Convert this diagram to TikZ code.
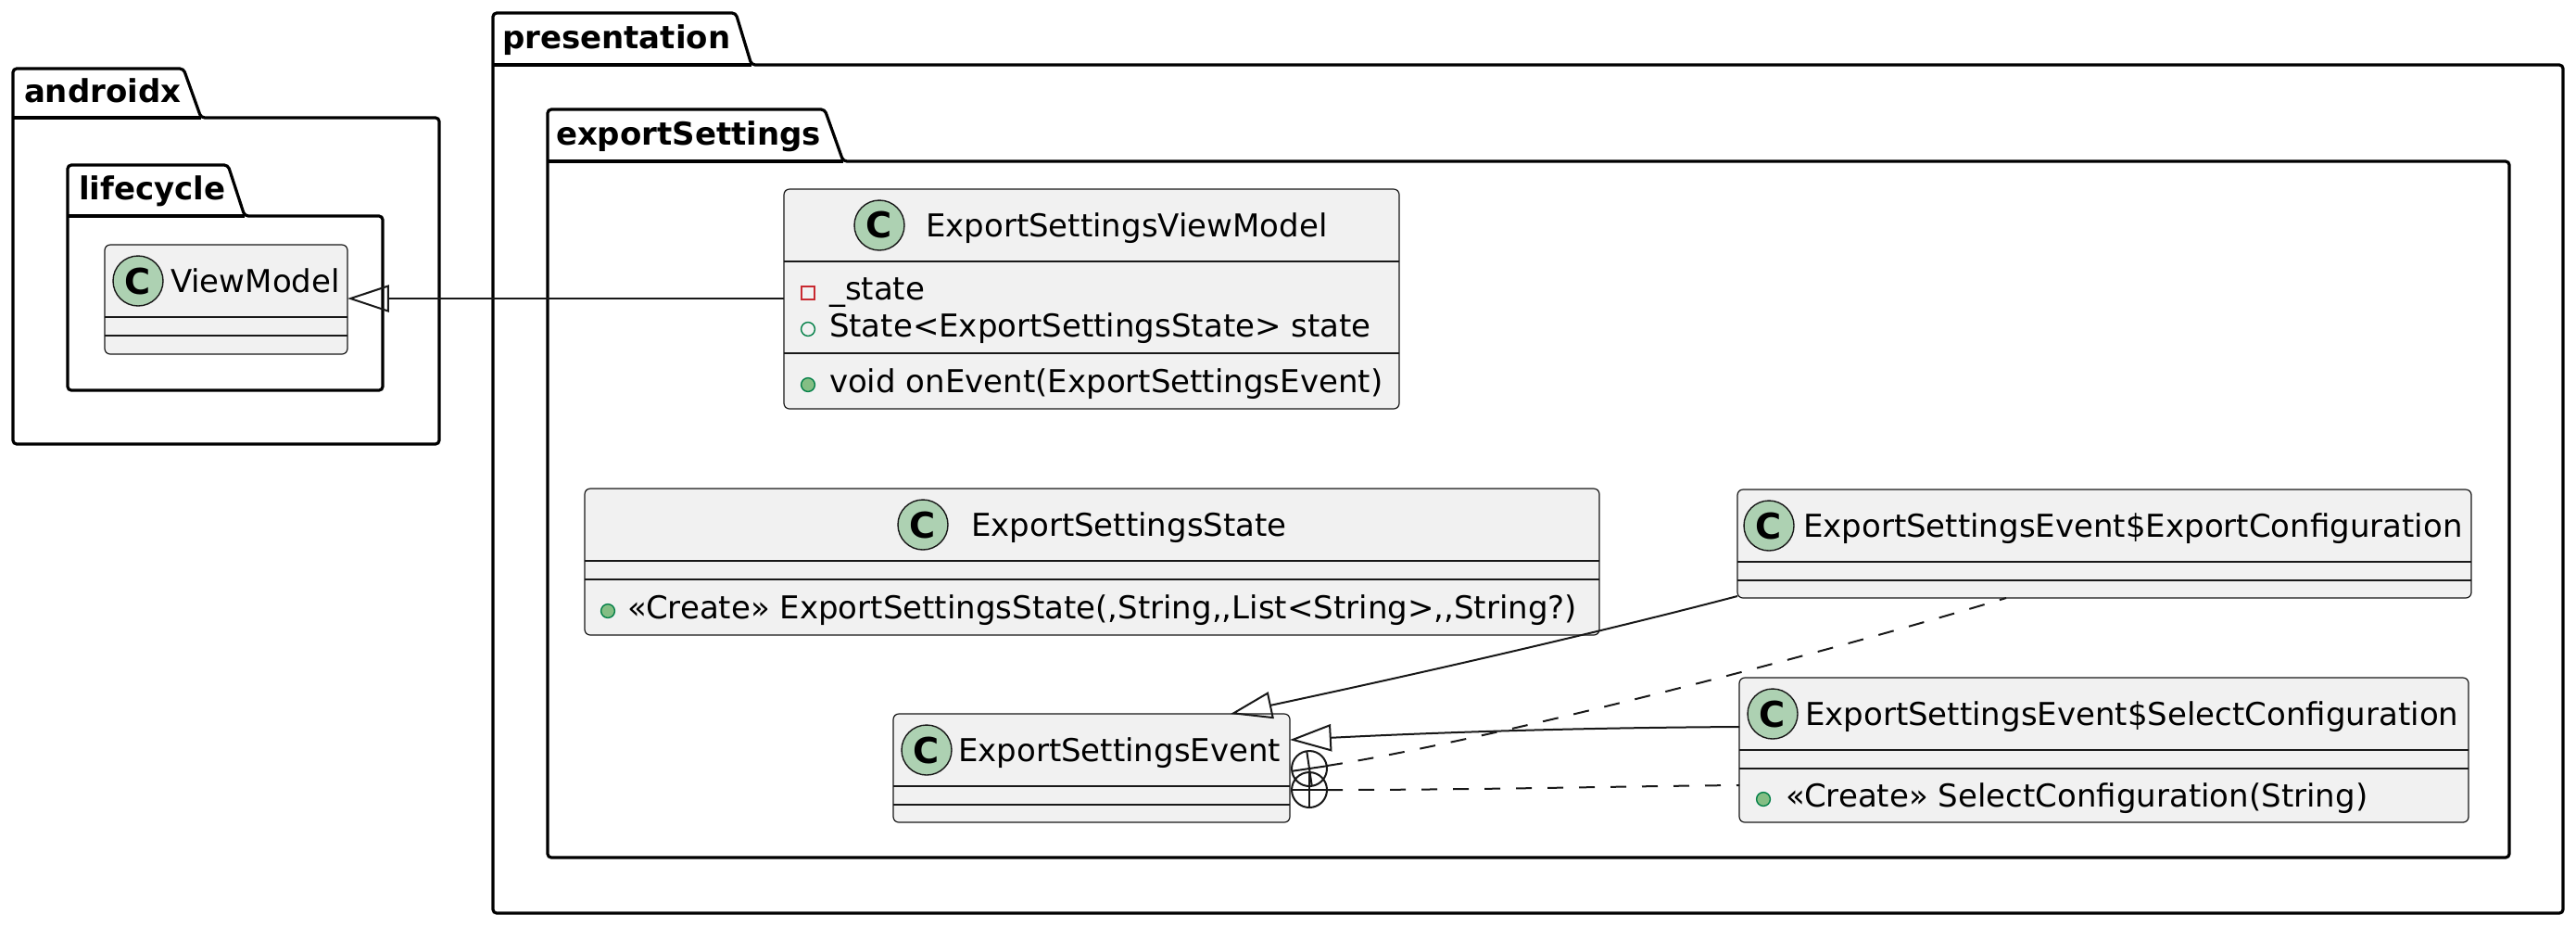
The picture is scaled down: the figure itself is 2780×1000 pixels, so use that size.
\documentclass[tikz,border=0pt]{standalone}
\usepackage{fontspec}
\setmainfont{DejaVu Sans}
\usetikzlibrary{arrows.meta,calc}
\definecolor{clsfill}{HTML}{F1F1F1}
\definecolor{ink}{HTML}{181818}
\definecolor{cfill}{HTML}{ADD1B2}
\definecolor{privred}{HTML}{C82930}
\definecolor{pubgreen}{HTML}{038048}
\definecolor{methfill}{HTML}{84BE84}
\tikzset{
  pkgline/.style={draw=black, line width=0.8pt, rounded corners=1pt},
  clsbox/.style={rectangle, draw=ink, fill=clsfill, line width=0.3pt, rounded corners=1.5pt, inner sep=0pt, outer sep=0pt},
  sepline/.style={draw=ink, line width=0.3pt},
  cicon/.style={circle, draw=ink, fill=cfill, line width=0.35pt, minimum size=13.5pt, inner sep=0pt, font=\bfseries\fontsize{9.6pt}{10pt}\selectfont},
  txt/.style={anchor=base west, inner sep=0pt, outer sep=0pt, font=\fontsize{8.5pt}{10pt}\selectfont},
  pkgtxt/.style={anchor=base west, inner sep=0pt, outer sep=0pt, font=\bfseries\fontsize{8.5pt}{10pt}\selectfont},
  conn/.style={draw=ink, line width=0.5pt},
  inh/.style={conn, -{Triangle[open, length=11.2pt, width=7.3pt]}},
  dsh/.style={conn, dash pattern=on 4.25pt off 4.25pt},
  privicon/.style={draw=privred, line width=0.35pt},
  pubicon/.style={draw=pubgreen, line width=0.35pt},
  methicon/.style={draw=pubgreen, fill=methfill, line width=0.35pt},
}
\begin{document}
\begin{tikzpicture}[x=0.25pt, y=-0.25pt]
\useasboundingbox (0,0) rectangle (2780,1000);
\fill[white] (0,0) rectangle (2780,1000);

% packages
\draw[pkgline] (14,479) -- (14,74) -- (198,74) -- (217,127) -- (474,127) -- (474,479) -- cycle;
\draw[pkgline] (14,127) -- (217,127);
\node[pkgtxt] (pandroidx) at (26,110) {androidx};

\draw[pkgline] (73,421) -- (73,178) -- (246,178) -- (264,233) -- (413,233) -- (413,421) -- cycle;
\draw[pkgline] (73,233) -- (264,233);
\node[pkgtxt] (plifecycle) at (85,215) {lifecycle};

\draw[pkgline] (532,985) -- (532,14) -- (794,14) -- (811,70) -- (2766,70) -- (2766,985) -- cycle;
\draw[pkgline] (532,70) -- (811,70);
\node[pkgtxt] (ppresentation) at (542,52) {presentation};

\draw[pkgline] (591,925) -- (591,118) -- (890,118) -- (910,174) -- (2708,174) -- (2708,925) -- cycle;
\draw[pkgline] (591,174) -- (910,174);
\node[pkgtxt] (pexport) at (600,156) {exportSettings};

% class boxes
\node[clsbox, minimum width=65.5pt, minimum height=29.5pt] (vm) at (244,323) {};
\node[clsbox, minimum width=166pt, minimum height=59.25pt] (evm) at (1178,322.5) {};
\node[clsbox, minimum width=273.75pt, minimum height=39.5pt] (st) at (1178.5,606) {};
\node[clsbox, minimum width=107pt, minimum height=29.25pt] (ev) at (1178,828.5) {};
\node[clsbox, minimum width=198pt, minimum height=29.25pt] (ec) at (2271,586.5) {};
\node[clsbox, minimum width=196.75pt, minimum height=39pt] (sc) at (2270.5,809) {};

% separators
\draw[sepline] (vm.west |- 0,342) -- (vm.east |- 0,342);
\draw[sepline] (vm.west |- 0,362) -- (vm.east |- 0,362);
\draw[sepline] (evm.west |- 0,282) -- (evm.east |- 0,282);
\draw[sepline] (evm.west |- 0,381) -- (evm.east |- 0,381);
\draw[sepline] (st.west |- 0,605) -- (st.east |- 0,605);
\draw[sepline] (st.west |- 0,625) -- (st.east |- 0,625);
\draw[sepline] (ev.west |- 0,848) -- (ev.east |- 0,848);
\draw[sepline] (ev.west |- 0,868) -- (ev.east |- 0,868);
\draw[sepline] (ec.west |- 0,606) -- (ec.east |- 0,606);
\draw[sepline] (ec.west |- 0,626) -- (ec.east |- 0,626);
\draw[sepline] (sc.west |- 0,809) -- (sc.east |- 0,809);
\draw[sepline] (sc.west |- 0,829) -- (sc.east |- 0,829);

% titles
\node[cicon] (vmc) at (149,303) {C};
\node[txt] (vmt) at (184,315) {ViewModel};
\node[cicon] (evmc) at (949,243) {C};
\node[txt] (evmt) at (999,255) {ExportSettingsViewModel};
\node[cicon] (stc) at (996,566) {C};
\node[txt] (stt) at (1048,578) {ExportSettingsState};
\node[cicon] (evc) at (1000,809) {C};
\node[txt] (evt) at (1034,821) {ExportSettingsEvent};
\node[cicon] (ecc) at (1909,567) {C};
\node[txt] (ect) at (1946,579) {ExportSettingsEvent\$ExportConfiguration};
\node[cicon] (scc) at (1913,770) {C};
\node[txt] (sct) at (1948,782) {ExportSettingsEvent\$SelectConfiguration};

% members
\draw[privicon] (865,309) rectangle (879,323);
\node[txt] (evm1) at (895,323) {\_state};
\draw[pubicon] (872,355) circle (1.85pt);
\node[txt] (evm2) at (895,363) {State<ExportSettingsState> state};
\draw[methicon] (872,415) circle (1.85pt);
\node[txt] (evm3) at (895,423) {void onEvent(ExportSettingsEvent)};

\draw[methicon] (656,659) circle (1.85pt);
\node[txt] (st1) at (677,667) {«Create» ExportSettingsState(,String,\kern0pt,List<String>,\kern0pt,String?)};

\draw[methicon] (1903,862) circle (1.85pt);
\node[txt] (sc1) at (1927,870) {«Create» SelectConfiguration(String)};

% connectors
\draw[inh] (evm.west |- 0,322) -- (vm.east |- 0,322);
\draw[inh] ($(ec.south west)+(0,-2)$) .. controls (1780,668) and (1600,712) .. ($(ev.north west)+(364,0)$);
\draw[inh] ($(sc.west)+(0,-25)$) .. controls (1700,785) and (1550,790) .. ($(ev.east)+(0,-30.5)$);

\coordinate (n1) at ($(ev.east)+(21,0.5)$);
\coordinate (n2) at ($(ev.east)+(21,23.5)$);
\draw[dsh] ($(n1)+(19,-3)$) .. controls (1600,800) and (1950,710) .. ($(ec.south west)+(290,0)$);
\draw[dsh] ($(n2)+(19,0)$) .. controls (1600,852) and (1750,848) .. ($(sc.west)+(0,38)$);

\draw[conn] (n1) circle (4.75pt);
\draw[conn] (n1) ++(8.4:4.75pt) -- ++(188.4:9.5pt);
\draw[conn] (n1) ++(98.4:4.75pt) -- ++(278.4:9.5pt);
\draw[conn] (n2) circle (4.75pt);
\draw[conn] (n2) ++(0:4.75pt) -- ++(180:9.5pt);
\draw[conn] (n2) ++(90:4.75pt) -- ++(270:9.5pt);
\end{tikzpicture}
\end{document}
